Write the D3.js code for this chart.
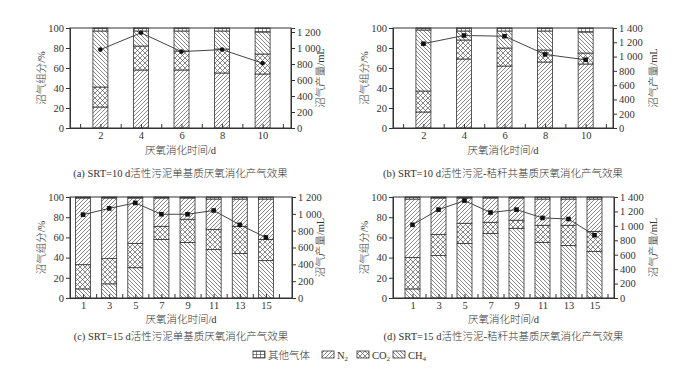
<!DOCTYPE html>
<html>
<head>
<meta charset="utf-8">
<script src="https://cdn.jsdelivr.net/npm/d3@7"></script>
<style>
  body { margin: 0; background: #fff; }
  svg text { font-family: "Liberation Serif", "Noto Sans CJK SC", serif; fill: #333; font-weight: 300; }
</style>
</head>
<body>
<svg id="chart" width="700" height="385"></svg>
<script>
// panel (a) SRT=10 d single substrate
const aDays  = [2, 4, 6, 8, 10];
const aCH4   = [21, 58, 58, 55, 54];
const aCO2   = [20, 24, 19, 24, 20];
const aN2    = [56, 15, 20, 18, 22];
const aOther = [3, 3, 3, 3, 4];
const aGas   = [980, 1190, 955, 980, 810];

// panel (b) SRT=10 d co-substrate with straw
const bDays  = [2, 4, 6, 8, 10];
const bCH4   = [16, 69, 62, 66, 64];
const bCO2   = [21, 19, 18, 12, 11];
const bN2    = [61, 9, 17, 19, 21];
const bOther = [2, 3, 3, 3, 4];
const bGas   = [1180, 1295, 1285, 1030, 955];

// panel (c) SRT=15 d single substrate
const cDays  = [1, 3, 5, 7, 9, 11, 13, 15];
const cCH4   = [9, 14, 30, 58, 55, 48, 44, 37];
const cCO2   = [24, 25, 24, 13, 23, 20, 27, 21];
const cN2    = [66, 60, 45, 28, 21, 30, 27, 40];
const cOther = [1, 1, 1, 1, 1, 2, 2, 2];
const cGas   = [990, 1065, 1130, 995, 995, 1040, 870, 720];

// panel (d) SRT=15 d co-substrate with straw
const dDays  = [1, 3, 5, 7, 9, 11, 13, 15];
const dCH4   = [9, 42, 54, 64, 69, 55, 52, 46];
const dCO2   = [31, 21, 20, 11, 8, 17, 20, 20];
const dN2    = [58, 36, 25, 24, 22, 26, 26, 32];
const dOther = [2, 1, 1, 1, 1, 2, 2, 2];
const dGas   = [1015, 1225, 1350, 1185, 1225, 1110, 1095, 870];

const pctTicks = [0, 20, 40, 60, 80, 100];
const gasTicks1200 = [0, 200, 400, 600, 800, 1000, 1200];
const gasTicks1400 = [0, 200, 400, 600, 800, 1000, 1200, 1400];
const minorOdd  = [1, 3, 5, 7, 9, 11];
const minorEven = [2, 4, 6, 8, 10, 12, 14, 16];

const captions = [
  "(a) SRT=10 d活性污泥单基质厌氧消化产气效果",
  "(b) SRT=10 d活性污泥-秸秆共基质厌氧消化产气效果",
  "(c) SRT=15 d活性污泥单基质厌氧消化产气效果",
  "(d) SRT=15 d活性污泥-秸秆共基质厌氧消化产气效果"
];
const legendNames = ["其他气体", "N2", "CO2", "CH4"];

const svg = d3.select("#chart");
const ink = "#333";

// hatch patterns
const defs = svg.append("defs");
function hatch(id, dir) {
  const p = defs.append("pattern").attr("id", id)
    .attr("patternUnits", "userSpaceOnUse").attr("width", 4).attr("height", 4);
  p.append("rect").attr("width", 4).attr("height", 4).attr("fill", "#fff");
  const paths = {
    slash: "M-1,1 l2,-2 M0,4 l4,-4 M3,5 l2,-2",
    back: "M-1,3 l2,2 M0,0 l4,4 M3,-1 l2,2",
  };
  if (dir == "cross") {
    p.attr("width", 5).attr("height", 5);
    p.select("rect").attr("width", 5).attr("height", 5);
    p.append("path").attr("d", "M0,0 l5,5 M0,5 l5,-5").attr("stroke", "#555").attr("stroke-width", 0.7);
  } else if (dir == "grid") {
    p.attr("width", 4).attr("height", 3);
    p.select("rect").attr("width", 4).attr("height", 3);
    p.append("path").attr("d", "M0,0.5 h4 M0.5,0 v3").attr("stroke", "#555").attr("stroke-width", 0.7);
  } else {
    p.append("path").attr("d", paths[dir]).attr("stroke", "#555").attr("stroke-width", 0.7);
  }
}
hatch("pSlash", "slash");
hatch("pBack", "back");
hatch("pCross", "cross");
hatch("pGrid", "grid");

const fmt = v => d3.format(",")(v).replace(/,/g, " ");

const panels = [
  { days: aDays, ch4: aCH4, co2: aCO2, n2: aN2, other: aOther, gas: aGas,
    left: 70, top: 28, w: 221, h: 100, xDom: [0.5, 11.4], minor: minorOdd,
    gasMax: 1250, gTicks: gasTicks1200, ch4Fill: "pSlash", n2Fill: "pBack", marker: "circle",
    rightTitleX: 320, titleDy: 26, capDy: 49, cap: captions[0] },
  { days: bDays, ch4: bCH4, co2: bCO2, n2: bN2, other: bOther, gas: bGas,
    left: 393, top: 28, w: 220, h: 100, xDom: [0.5, 11.35], minor: minorOdd,
    gasMax: 1400, gTicks: gasTicks1400, ch4Fill: "pSlash", n2Fill: "pBack", marker: "square",
    rightTitleX: 653, titleDy: 26, capDy: 49, cap: captions[1] },
  { days: cDays, ch4: cCH4, co2: cCO2, n2: cN2, other: cOther, gas: cGas,
    left: 70, top: 197, w: 222, h: 101, xDom: [0, 17], minor: minorEven,
    gasMax: 1200, gTicks: gasTicks1200, ch4Fill: "pBack", n2Fill: "pSlash", marker: "square",
    rightTitleX: 320, titleDy: 25, capDy: 42, cap: captions[2] },
  { days: dDays, ch4: dCH4, co2: dCO2, n2: dN2, other: dOther, gas: dGas,
    left: 393, top: 197, w: 221, h: 101, xDom: [-0.5, 16.5], minor: minorEven,
    gasMax: 1400, gTicks: gasTicks1400, ch4Fill: "pBack", n2Fill: "pSlash", marker: "square",
    rightTitleX: 653, titleDy: 25, capDy: 42, cap: captions[3] },
];

panels.forEach(drawPanel);

function drawPanel(p) {
  const g = svg.append("g").attr("transform", `translate(${p.left},${p.top})`);
  const x = d3.scaleLinear().domain(p.xDom).range([0, p.w]);
  const y = d3.scaleLinear().domain([0, 100]).range([p.h, 0]);
  const yg = d3.scaleLinear().domain([0, p.gasMax]).range([p.h, 0]);

  const rows = p.days.map((d, i) => ({ day: d, ch4: p.ch4[i], co2: p.co2[i], n2: p.n2[i], other: p.other[i] }));
  const keys = ["ch4", "co2", "n2", "other"];
  const fills = { ch4: p.ch4Fill, co2: "pCross", n2: p.n2Fill, other: "pGrid" };
  const stack = d3.stack().keys(keys)(rows);
  const bw = 15;

  g.selectAll("g.layer").data(stack).enter().append("g")
    .attr("fill", d => `url(#${fills[d.key]})`)
    .selectAll("rect").data(d => d).enter().append("rect")
      .attr("x", d => x(d.data.day) - bw / 2)
      .attr("width", bw)
      .attr("y", d => y(d[1]))
      .attr("height", d => y(d[0]) - y(d[1]))
      .attr("stroke", ink)
      .attr("stroke-width", 0.8);

  // gas production line
  const line = d3.line().x((d, i) => x(p.days[i])).y(d => yg(d));
  g.append("path").datum(p.gas).attr("d", line)
    .attr("fill", "none").attr("stroke", "#444").attr("stroke-width", 1);
  if (p.marker == "circle") {
    g.selectAll("circle.pt").data(p.gas).enter().append("circle")
      .attr("cx", (d, i) => x(p.days[i])).attr("cy", d => yg(d)).attr("r", 2.3).attr("fill", "#111");
  } else {
    g.selectAll("rect.pt").data(p.gas).enter().append("rect")
      .attr("x", (d, i) => x(p.days[i]) - 2.3).attr("y", d => yg(d) - 2.3)
      .attr("width", 4.6).attr("height", 4.6).attr("fill", "#111");
  }

  // frame
  g.append("rect").attr("width", p.w).attr("height", p.h)
    .attr("fill", "none").attr("stroke", ink).attr("stroke-width", 1);

  // left axis
  const yAx = g.append("g").call(d3.axisLeft(y).tickValues(pctTicks).tickSize(4).tickPadding(2));
  // right axis
  const gAx = g.append("g").attr("transform", `translate(${p.w},0)`)
    .call(d3.axisRight(yg).tickValues(p.gTicks).tickSize(4).tickPadding(2).tickFormat(fmt));
  // bottom axis, ticks pointing in
  const xAx = g.append("g").attr("transform", `translate(0,${p.h})`)
    .call(d3.axisBottom(x).tickValues(p.days).tickSize(-4).tickPadding(4).tickFormat(d3.format("d")));
  g.append("g").attr("transform", `translate(0,${p.h})`)
    .call(d3.axisBottom(x).tickValues(p.minor).tickSize(-4).tickFormat(""))
    .call(a => a.select(".domain").remove());

  [yAx, gAx, xAx].forEach(a => {
    a.select(".domain").attr("stroke", ink);
    a.selectAll(".tick line").attr("stroke", ink);
    a.selectAll("text").attr("font-size", 10.5).attr("fill", "#222")
      .style("font-family", '"Liberation Serif", serif');
  });
  g.selectAll(".tick line").attr("stroke", ink);

  // titles
  g.append("text").attr("transform", `translate(-29,${p.h / 2}) rotate(-90)`)
    .attr("text-anchor", "middle").attr("dy", "0.35em").attr("font-size", 10.5).text("沼气组分/%");
  g.append("text").attr("transform", `translate(${p.rightTitleX - p.left},${p.h / 2}) rotate(-90)`)
    .attr("text-anchor", "middle").attr("dy", "0.35em").attr("font-size", 10.5).text("沼气产量/mL");
  g.append("text").attr("x", p.w / 2).attr("y", p.h + p.titleDy)
    .attr("text-anchor", "middle").attr("font-size", 10.5).text("厌氧消化时间/d");
  g.append("text").attr("x", p.w / 2).attr("y", p.h + p.capDy)
    .attr("text-anchor", "middle").attr("font-size", 10.5).text(p.cap);
}

// legend
const legFills = ["pGrid", "pSlash", "pCross", "pBack"];
const legX = [253, 322, 357, 393];
const leg = svg.append("g").attr("transform", "translate(0,351)");
legendNames.forEach((name, i) => {
  leg.append("rect").attr("x", legX[i]).attr("y", 0).attr("width", 12).attr("height", 7)
    .attr("fill", `url(#${legFills[i]})`).attr("stroke", ink).attr("stroke-width", 0.8);
  const t = leg.append("text").attr("x", legX[i] + 15).attr("y", 7.5).attr("font-size", 10.5);
  const m = name.match(/^([A-Z]+)(\d)$/);
  if (m) {
    t.append("tspan").text(m[1]);
    t.append("tspan").attr("font-size", 7).attr("dy", 2).text(m[2]);
  } else {
    t.text(name);
  }
});
</script>
</body>
</html>
